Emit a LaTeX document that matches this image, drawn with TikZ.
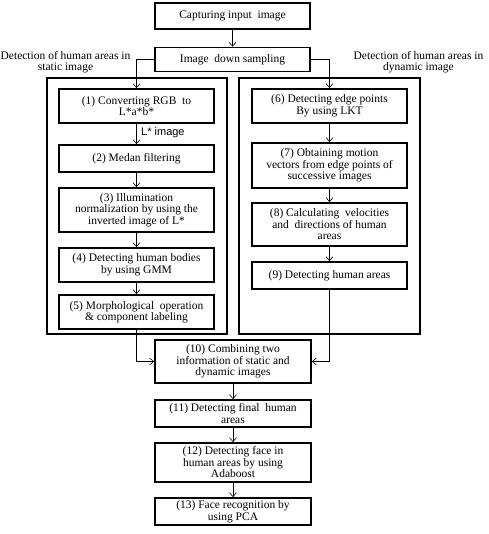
\documentclass[tikz,border=0pt]{standalone}
\usepackage{fontspec}
\setmainfont{Liberation Serif}
\newfontfamily\labsans{Liberation Sans}
\usetikzlibrary{arrows.meta}
\begin{document}
\begin{tikzpicture}[x=1pt,y=-1pt,
  box/.style={draw,line width=1.8pt,align=center,inner sep=1pt,
    font=\fontsize{11.5}{11.5}\selectfont},
  lbox/.style={box,minimum width=155pt},
  cbox/.style={box,minimum width=156pt},
  cont/.style={draw,line width=1.6pt},
  arr/.style={line width=0.6pt,-{Straight Barb[length=4pt,width=7pt]}},
  lab/.style={align=center,font=\fontsize{11.5}{11.5}\selectfont,inner sep=0pt}]
\useasboundingbox (0,0) rectangle (488,534);
% containers
\draw[cont] (47,78) rectangle (227,334);
\draw[cont] (239,78) rectangle (420,334);
% top
\node[box,minimum width=155pt,minimum height=26pt] (top) at (232.5,16) {Capturing input\ \ image};
\node[box,minimum width=155pt,minimum height=24pt] (ds) at (232.5,59.5) {Image\ \ down sampling};
% left column
\node[lbox,minimum height=34pt] (b1) at (136.5,106) {(1) Converting RGB\ \ to\\L*a*b*};
\node[lbox,minimum height=27pt] (b2) at (136.5,158.5) {(2) Medan filtering};
\node[lbox,minimum height=44pt] (b3) at (136.5,210) {(3) Illumination\\normalization by using the\\inverted image of L*};
\node[lbox,minimum height=34pt] (b4) at (136.5,265) {(4) Detecting human bodies\\by using GMM};
\node[lbox,minimum height=34pt] (b5) at (136.5,312) {(5) Morphological\ \ operation\\\& component labeling};
% right column
\node[lbox,minimum height=34pt] (b6) at (329.5,106) {(6) Detecting edge points\\By using LKT};
\node[lbox,minimum height=45pt] (b7) at (329.5,165.5) {(7) Obtaining motion\\vectors from edge points of\\successive images};
\node[lbox,minimum height=43pt] (b8) at (329.5,224.5) {(8) Calculating\ \ velocities\\and\ \ directions of human\\areas};
\node[lbox,minimum height=27pt] (b9) at (329.5,275.5) {(9) Detecting human areas};
% bottom
\node[cbox,minimum height=43pt] (b10) at (233,361.5) {(10) Combining two\\information of static and\\dynamic images};
\node[cbox,minimum height=27pt] (b11) at (233,413.5) {(11) Detecting final\ \ human\\areas};
\node[cbox,minimum height=39pt] (b12) at (233,462.5) {(12) Detecting face in\\human areas by using\\Adaboost};
\node[cbox,minimum height=27pt] (b13) at (233,511.5) {(13) Face recognition by\\using PCA};
% labels
\node[lab] (ls) at (65.5,62) {Detection of human areas in\\static image};
\node[lab] (rs) at (418.5,62) {Detection of human areas in\\dynamic image};
\node[anchor=west,inner sep=0pt,font=\labsans\fontsize{11}{11}\selectfont] (limg) at (141,133) {L* image};
% arrows
\draw[arr] (top.south) -- (ds.north);
\draw[arr] (ds.west) -| (b1.north);
\draw[arr] (ds.east) -| (b6.north);
\draw[arr] (b1) -- (b2);
\draw[arr] (b2) -- (b3);
\draw[arr] (b3) -- (b4);
\draw[arr] (b4) -- (b5);
\draw[arr] (b6) -- (b7);
\draw[arr] (b7) -- (b8);
\draw[arr] (b8) -- (b9);
\draw[arr] (b5.south) |- (b10.west);
\draw[arr] (b9.south) |- (b10.east);
\draw[arr] (b10) -- (b11);
\draw[arr] (b11) -- (b12);
\draw[arr] (b12) -- (b13);
\end{tikzpicture}
\end{document}
